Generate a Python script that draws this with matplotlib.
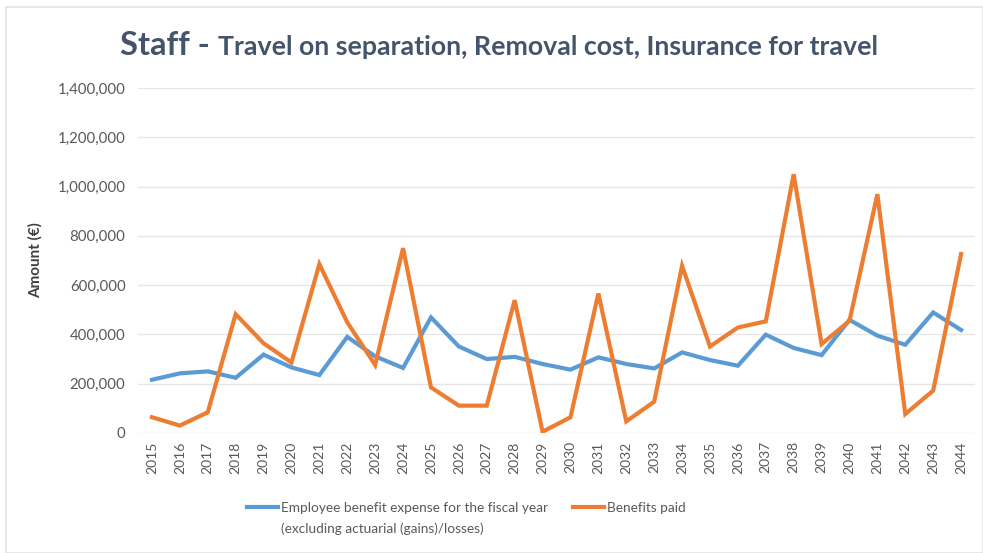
import matplotlib
matplotlib.use("Agg")
import matplotlib.pyplot as plt
from matplotlib.ticker import FuncFormatter, MultipleLocator
from matplotlib.patches import Rectangle

years = list(range(2015, 2045))
expense = [216000, 242000, 250000, 224000, 318000, 266000, 235000, 390000, 311000, 264000,
           469000, 351000, 300000, 309000, 280000, 257000, 307000, 280000, 262000, 327000,
           296000, 273000, 399000, 345000, 316000, 459000, 395000, 358000, 489000, 418000]
paid = [64000, 30000, 84000, 482000, 364000, 286000, 685000, 449000, 276000, 750000,
        185000, 111000, 111000, 539000, 5000, 64000, 566000, 47000, 127000, 678000,
        351000, 428000, 453000, 1050000, 361000, 455000, 969000, 77000, 172000, 726000]
series_names = ["Employee benefit expense for the fiscal year\n(excluding actuarial (gains)/losses)",
                "Benefits paid"]
title_main = "Staff - "
title_rest = "Travel on separation, Removal cost, Insurance for travel"
ylabel = "Amount (€)"

plt.rcParams['font.family'] = ['Lato', 'DejaVu Sans']
fig = plt.figure(figsize=(9.83, 5.53), dpi=100)
fig.patch.set_facecolor('white')
fig.add_artist(Rectangle((0.006, 0.0), 0.994, 0.987, transform=fig.transFigure,
                         fill=False, edgecolor='#e3e3e3', linewidth=1.2))

ax = fig.add_axes([0.1404, 0.217, 0.8515, 0.624])
x = list(range(len(years)))
l1, = ax.plot(x, expense, color='#5B9BD5', linewidth=3.0, solid_joinstyle='miter')
l2, = ax.plot(x, paid, color='#ED7D31', linewidth=3.0, solid_joinstyle='miter')
ax.set_xlim(-0.5, len(years) - 0.5)
ax.set_ylim(0, 1400000)
ax.yaxis.set_major_locator(MultipleLocator(200000))
ax.yaxis.set_major_formatter(FuncFormatter(lambda v, p: f"{int(v):,}"))
ax.set_xticks(x)
ax.set_xticklabels([str(y) for y in years], rotation=90)
ax.grid(axis='y', color='#e6e6e6', linewidth=1)
ax.set_axisbelow(True)
for s in ['top', 'right', 'left', 'bottom']:
    ax.spines[s].set_visible(False)
ax.tick_params(axis='both', length=0, labelcolor='#595959')
ax.tick_params(axis='y', pad=9, labelsize=10.8)
ax.tick_params(axis='x', pad=6, labelsize=10)
ax.set_ylabel(ylabel, fontsize=11, fontweight='bold', color='#404040')
ax.yaxis.set_label_coords(-0.1135, 0.5)

first_lines = [n.split("\n")[0] for n in series_names]
leg = fig.legend([l1, l2], first_lines, loc='center left',
                 bbox_to_anchor=(247 / 983, 1 - 508 / 553), ncol=2, frameon=False,
                 fontsize=9.8, handlelength=2.3, handletextpad=0.2, columnspacing=1.8,
                 labelcolor='#595959', borderpad=0, borderaxespad=0)

fig.canvas.draw()
r = fig.canvas.get_renderer()
tb = leg.get_texts()[0].get_window_extent(r)
fig.text(tb.x0 / fig.bbox.width, 1 - 529 / 553, series_names[0].split("\n")[1],
         fontsize=9.8, color='#595959', va='center', ha='left')

t1 = fig.text(0.122, 0.9, title_main, fontsize=23.5, fontweight='bold', color='#44546A', va='baseline')
bb = t1.get_window_extent(r)
fig.text(bb.x1 / fig.bbox.width, 0.9, title_rest, fontsize=19.3, fontweight='bold',
         color='#44546A', va='baseline')

fig.savefig("out.png", dpi=100, facecolor='white')
